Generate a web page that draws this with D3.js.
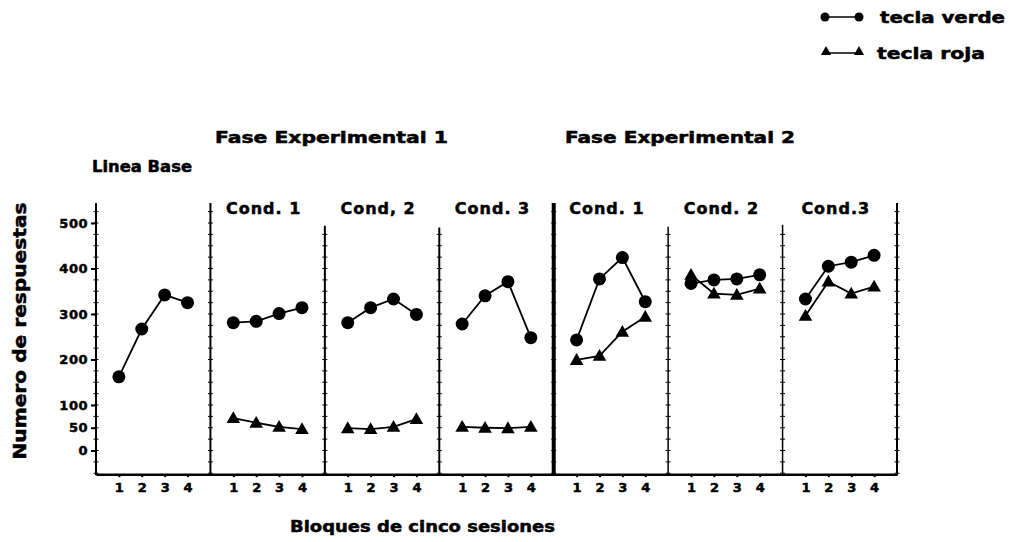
<!DOCTYPE html>
<html>
<head>
<meta charset="utf-8">
<script src="https://cdn.jsdelivr.net/npm/d3@7"></script>
<style>
	body { margin: 0; background: #fff; }
	text { font-family: "DejaVu Sans", "Liberation Sans", sans-serif; font-weight: bold; fill: #000; stroke: #000; stroke-width: 0.5px; }
</style>
</head>
<body>
<div id="chart-area"></div>
<script>

// panels: baseline + 3 conditions per experimental phase
const panelLabels = ['', 'Cond. 1', 'Cond, 2', 'Cond. 3', 'Cond. 1', 'Cond. 2', 'Cond.3'];
const blocks = [1, 2, 3, 4];
const verde = [
	[162, 267, 342, 325],
	[281, 284, 301, 314],
	[281, 314, 333, 299],
	[278, 340, 371, 248],
	[243, 377, 424, 327],
	[367, 375, 377, 386],
	[333, 405, 414, 429]
];
const roja = [
	null,
	[71, 61, 52, 47],
	[49, 47, 52, 69],
	[52, 50, 49, 52],
	[199, 208, 261, 294],
	[386, 345, 342, 356],
	[296, 371, 345, 360]
];
const yTicks = [0, 50, 100, 200, 300, 400, 500];

const width = 1011;
const height = 542;

const svg = d3.select('#chart-area')
	.append('svg')
	.attr('width', width)
	.attr('height', height);

// Scales
const x = d3.scaleLinear()
	.domain([0, 35])
	.range([96, 897]);

const y = d3.scaleLinear()
	.domain([0, 500])
	.range([450.5, 223]);

const yBottom = y(-52);
const yTopTall = y(544);

// vertical lines (axis, dividers, right edge)
const dividers = [
	{ v: 0, top: yTopTall, w: 2 },
	{ v: 5, top: yTopTall, w: 2 },
	{ v: 10, top: y(494), w: 2 },
	{ v: 15, top: y(490), w: 2 },
	{ v: 20, top: yTopTall, w: 4 },
	{ v: 25, top: y(492), w: 1.5 },
	{ v: 30, top: y(496), w: 1.5 },
	{ v: 35, top: yTopTall, w: 2 }
];

svg.selectAll('line.divider')
	.data(dividers)
	.enter()
		.append('line')
		.attr('class', 'divider')
		.attr('x1', d => x(d.v))
		.attr('x2', d => x(d.v))
		.attr('y1', d => d.top)
		.attr('y2', yBottom + 1)
		.attr('stroke', '#000')
		.attr('stroke-width', d => d.w);

// small minor ticks along the vertical lines
const minor = d3.range(-50, 530, 25);
dividers.forEach((d) => {
	svg.append('g')
		.selectAll('line')
		.data(minor.filter(m => y(m) > d.top + 2))
		.enter()
			.append('line')
			.attr('x1', x(d.v) - 2.5)
			.attr('x2', x(d.v) + 2.5)
			.attr('y1', m => y(m))
			.attr('y2', m => y(m))
			.attr('stroke', '#000')
			.attr('stroke-width', 1);
});

// Y axis
const leftAxis = d3.axisLeft(y)
	.tickValues(yTicks)
	.tickSize(5)
	.tickPadding(3);
svg.append('g')
	.attr('class', 'axis-left')
	.attr('transform', `translate(${x(0)}, 0)`)
	.call(leftAxis)
	.call(g => g.select('.domain').remove())
	.call(g => g.selectAll('.tick line').attr('stroke-width', 2))
	.call(g => g.selectAll('.tick text')
		.style('font-size', '13px')
		.style('font-family', '"DejaVu Sans", sans-serif')
		.style('font-weight', 'bold')
		.attr('letter-spacing', 0.5));

// X axis
const xValues = [];
for (let p = 0; p < 7; p++) {
	blocks.forEach(b => xValues.push(p * 5 + b));
}
const bottomAxis = d3.axisBottom(x)
	.tickValues(xValues)
	.tickFormat(d => d % 5)
	.tickSize(3)
	.tickSizeOuter(0)
	.tickPadding(6);
svg.append('g')
	.attr('class', 'axis-bottom')
	.attr('transform', `translate(0, ${yBottom})`)
	.call(bottomAxis)
	.call(g => g.select('.domain').attr('stroke-width', 2.5))
	.call(g => g.selectAll('.tick line').attr('stroke-width', 2))
	.call(g => g.selectAll('.tick text')
		.style('font-size', '13px')
		.style('font-family', '"DejaVu Sans", sans-serif')
		.style('font-weight', 'bold'));

// series
const line = d3.line()
	.x(d => x(d.x))
	.y(d => y(d.v));

const triangle = d3.symbol().type(d3.symbolTriangle).size(80);

for (let p = 0; p < 7; p++) {
	const g = svg.append('g');
	const vPts = verde[p].map((v, i) => ({ x: p * 5 + blocks[i], v: v }));

	if (roja[p]) {
		const rPts = roja[p].map((v, i) => ({ x: p * 5 + blocks[i], v: v }));
		g.append('path')
			.attr('d', line(rPts))
			.attr('fill', 'none')
			.attr('stroke', '#000')
			.attr('stroke-width', 1.8);
		g.selectAll('path.tri')
			.data(rPts)
			.enter()
				.append('path')
				.attr('class', 'tri')
				.attr('d', triangle)
				.attr('transform', d => `translate(${x(d.x)}, ${y(d.v) + 1})`)
				.attr('fill', '#000');
	}

	g.append('path')
		.attr('d', line(vPts))
		.attr('fill', 'none')
		.attr('stroke', '#000')
		.attr('stroke-width', 1.8);
	g.selectAll('circle')
		.data(vPts)
		.enter()
			.append('circle')
			.attr('cx', d => x(d.x))
			.attr('cy', d => y(d.v))
			.attr('r', 6.5)
			.attr('fill', '#000');
}

// condition labels
svg.selectAll('text.cond')
	.data(panelLabels)
	.enter()
		.append('text')
		.attr('class', 'cond')
		.attr('x', (d, i) => x(i * 5 + 2.5) - 4)
		.attr('y', 214)
		.attr('text-anchor', 'middle')
		.style('font-size', '16px')
		.attr('letter-spacing', 1)
		.text(d => d);

// phase titles
svg.append('text')
	.attr('x', 215).attr('y', 143)
	.attr('textLength', 233).attr('lengthAdjust', 'spacingAndGlyphs')
	.style('font-size', '15px')
	.text('Fase Experimental 1');
svg.append('text')
	.attr('x', 565).attr('y', 143)
	.attr('textLength', 230).attr('lengthAdjust', 'spacingAndGlyphs')
	.style('font-size', '15px')
	.text('Fase Experimental 2');
svg.append('text')
	.attr('x', 92).attr('y', 172)
	.attr('textLength', 100).attr('lengthAdjust', 'spacingAndGlyphs')
	.style('font-size', '15px')
	.text('Linea Base');

// axis titles
svg.append('text')
	.attr('transform', `translate(26, 331) rotate(-90)`)
	.attr('text-anchor', 'middle')
	.attr('textLength', 257).attr('lengthAdjust', 'spacingAndGlyphs')
	.style('font-size', '17px')
	.text('Numero de respuestas');
svg.append('text')
	.attr('x', 290).attr('y', 532)
	.attr('textLength', 265).attr('lengthAdjust', 'spacingAndGlyphs')
	.style('font-size', '16px')
	.text('Bloques de cinco sesiones');

// legend
const legend = svg.append('g');
legend.append('line')
	.attr('x1', 825).attr('x2', 860).attr('y1', 17).attr('y2', 17)
	.attr('stroke', '#000').attr('stroke-width', 1.5);
legend.selectAll('circle')
	.data([825, 859])
	.enter()
		.append('circle')
		.attr('cx', d => d).attr('cy', 17).attr('r', 4.5)
		.attr('fill', '#000');
legend.append('text')
	.attr('x', 880).attr('y', 23)
	.attr('textLength', 125).attr('lengthAdjust', 'spacingAndGlyphs')
	.style('font-size', '15px')
	.text('tecla verde');

legend.append('line')
	.attr('x1', 826).attr('x2', 859).attr('y1', 53).attr('y2', 53)
	.attr('stroke', '#000').attr('stroke-width', 1.5);
legend.selectAll('path')
	.data([826, 859])
	.enter()
		.append('path')
		.attr('d', d3.symbol().type(d3.symbolTriangle).size(45))
		.attr('transform', d => `translate(${d}, 52)`)
		.attr('fill', '#000');
legend.append('text')
	.attr('x', 877).attr('y', 59)
	.attr('textLength', 108).attr('lengthAdjust', 'spacingAndGlyphs')
	.style('font-size', '15px')
	.text('tecla roja');

</script>
</body>
</html>
